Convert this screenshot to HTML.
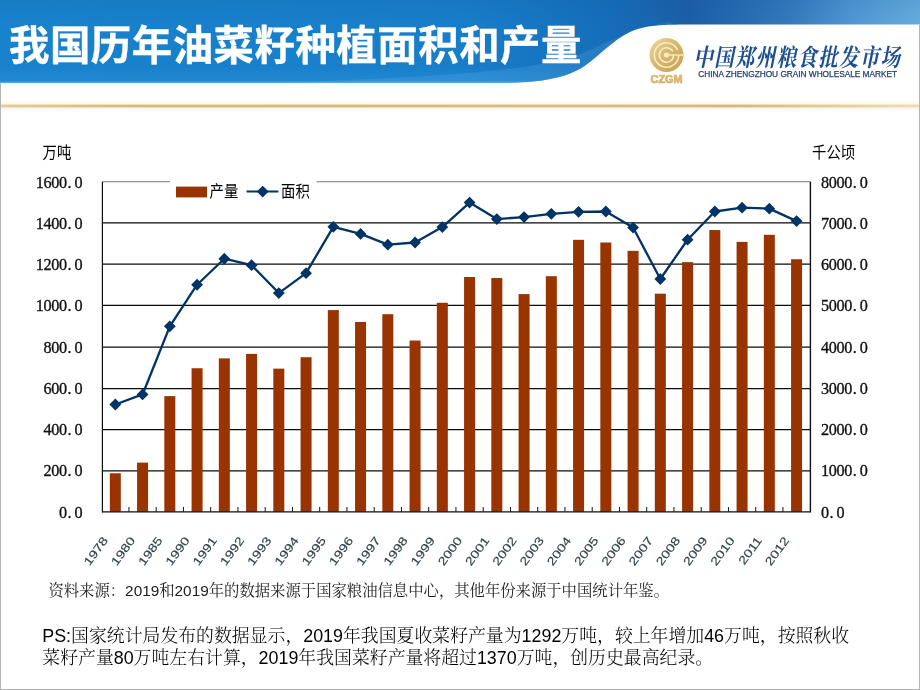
<!DOCTYPE html>
<html lang="zh-CN"><head><meta charset="utf-8"><title>我国历年油菜籽种植面积和产量</title>
<style>
html,body{margin:0;padding:0;background:#fff;}
body{width:920px;height:690px;position:relative;overflow:hidden;font-family:"Liberation Sans","Noto Sans CJK SC",sans-serif;}
.fl{position:absolute;left:0;top:83px;width:1px;height:607px;background:#b4b4b4;}
.fr{position:absolute;left:919px;top:25px;width:1px;height:665px;background:#b4b4b4;}
.fb{position:absolute;left:0;top:689px;width:920px;height:1px;background:#b4b4b4;}
.hdr{position:absolute;left:0;top:0;}
.title{position:absolute;left:9px;top:15.7px;margin:0;font-family:"Liberation Sans","Noto Sans CJK SC",sans-serif;font-weight:bold;font-size:40.4px;line-height:60px;color:#fff;white-space:nowrap;letter-spacing:0.53px;-webkit-text-stroke:0.35px #fff;}
.logo{position:absolute;left:640px;top:30px;}
.org{position:absolute;left:693.5px;top:42.6px;transform:scaleY(1.25);transform-origin:0 50%;margin:0;font-family:"Liberation Serif","Noto Serif CJK SC",serif;font-weight:700;font-style:italic;font-size:19.4px;line-height:30px;color:#1e4f92;white-space:nowrap;letter-spacing:1.4px;}
.orgen{position:absolute;left:698.2px;top:69.4px;margin:0;font-family:"Liberation Sans",sans-serif;font-size:8.3px;line-height:10px;color:#1f3f73;white-space:nowrap;letter-spacing:-0.02px;-webkit-text-stroke:0.25px #1f3f73;}
.chart{position:absolute;left:0;top:0;}
.chart .cj{font-family:"Liberation Sans","Noto Sans CJK SC",sans-serif;font-size:14.4px;fill:#000;}
.chart .num{font-family:"Liberation Serif",serif;font-size:14.6px;font-weight:400;fill:#111;stroke:#111;stroke-width:0.3px;}
.chart .xl{font-family:"Liberation Sans",sans-serif;font-size:14.5px;fill:#33454a;stroke:#33454a;stroke-width:0.2px;}
.src{position:absolute;left:48.4px;top:580px;margin:0;font-family:"Liberation Sans","Noto Serif CJK SC",serif;font-size:15.35px;line-height:22px;color:#222;white-space:nowrap;}
.ps{position:absolute;left:42.3px;top:625.2px;margin:0;font-family:"Liberation Sans","Noto Serif CJK SC",serif;font-size:17.88px;line-height:22.2px;color:#000;white-space:nowrap;font-weight:300;}
</style></head>
<body>
<svg class="hdr" width="920" height="120" viewBox="0 0 920 120">
<defs>
<linearGradient id="bg" x1="0" y1="0" x2="920" y2="0" gradientUnits="userSpaceOnUse">
<stop offset="0" stop-color="#1982cd"/><stop offset="0.5" stop-color="#187ec9"/><stop offset="0.65" stop-color="#166fbb"/><stop offset="0.75" stop-color="#1b5fa6"/><stop offset="0.85" stop-color="#3077bb"/><stop offset="0.93" stop-color="#5299d4"/><stop offset="1" stop-color="#66addf"/>
</linearGradient>
<linearGradient id="bv" x1="0" y1="0" x2="0" y2="83" gradientUnits="userSpaceOnUse">
<stop offset="0" stop-color="#0c4f96" stop-opacity="0.12"/><stop offset="0.3" stop-color="#0c4f96" stop-opacity="0"/><stop offset="0.8" stop-color="#3aa0e6" stop-opacity="0.0"/><stop offset="0.97" stop-color="#3aa0e6" stop-opacity="0.25"/><stop offset="1" stop-color="#8fd0f8" stop-opacity="0.6"/>
</linearGradient>
<linearGradient id="cream" x1="0" y1="83" x2="0" y2="105" gradientUnits="userSpaceOnUse">
<stop offset="0" stop-color="#ffffff"/><stop offset="0.72" stop-color="#ffffff"/><stop offset="1" stop-color="#fdf6e4"/>
</linearGradient>
<linearGradient id="gold" x1="0" y1="0" x2="920" y2="0" gradientUnits="userSpaceOnUse">
<stop offset="0" stop-color="#e2cd96"/><stop offset="0.12" stop-color="#d8bd78"/><stop offset="0.8" stop-color="#d6ba72"/><stop offset="1" stop-color="#ecdfb4"/>
</linearGradient>
<linearGradient id="shadow" x1="0" y1="107.4" x2="0" y2="113.4" gradientUnits="userSpaceOnUse">
<stop offset="0" stop-color="#c9c3b6" stop-opacity="0.22"/><stop offset="1" stop-color="#ffffff" stop-opacity="0"/>
</linearGradient>
<linearGradient id="swl" x1="430" y1="0" x2="680" y2="0" gradientUnits="userSpaceOnUse">
<stop offset="0" stop-color="#8fc6ee" stop-opacity="0"/><stop offset="0.5" stop-color="#7fb9e6" stop-opacity="0.9"/><stop offset="1" stop-color="#2f6fb4" stop-opacity="0.9"/>
</linearGradient>
</defs>
<rect x="0" y="83" width="920" height="22.5" fill="url(#cream)"/>
<path id="band" d="M0 0H920V24.5H700C660 24.5 645 25 630 32C612 41 600 55 587 64.3C570 77 545 83 500 83H0Z" fill="url(#bg)"/>
<path d="M0 0H920V24.5H700C660 24.5 645 25 630 32C612 41 600 55 587 64.3C570 77 545 83 500 83H0Z" fill="url(#bv)"/>
<clipPath id="bc"><path d="M0 0H920V24.5H700C660 24.5 645 25 630 32C612 41 600 55 587 64.3C570 77 545 83 500 83H0Z"/></clipPath>
<g clip-path="url(#bc)"><path d="M250 84C400 78 520 74 575 56C605 45 625 30 670 22L700 40L600 90Z" fill="#7cc8f6" opacity="0.16"/></g>
<rect x="0" y="104.6" width="920" height="2.8" fill="url(#gold)"/>
<rect x="0" y="107.4" width="920" height="6" fill="url(#shadow)"/>
</svg>
<h1 class="title">我国历年油菜籽种植面积和产量</h1>
<svg class="logo" width="60" height="60" viewBox="0 0 60 60">
<defs><linearGradient id="lg" x1="0" y1="0" x2="1" y2="1"><stop offset="0" stop-color="#ecd9a4"/><stop offset="0.45" stop-color="#d9b96f"/><stop offset="1" stop-color="#c59d4c"/></linearGradient>
<linearGradient id="lt" x1="0" y1="0" x2="0" y2="1"><stop offset="0" stop-color="#e2c784"/><stop offset="1" stop-color="#cfa959"/></linearGradient></defs>
<circle cx="26.5" cy="25.0" r="17" fill="url(#lg)"/>
<path d="M38.70 25.00A12.2 12.2 0 1 1 37.65 20.04" fill="none" stroke="#f8ecc8" stroke-width="1.5"/>
<path d="M33.70 25.00A7.2 7.2 0 1 1 32.74 21.40" fill="none" stroke="#f8ecc8" stroke-width="1.5"/>
<circle cx="26.5" cy="25.0" r="2.6" fill="#f8ecc8"/>
<path d="M26.5 25.0H43.5" stroke="#f8ecc8" stroke-width="1.4"/>
<text x="26.6" y="53" text-anchor="middle" textLength="32" lengthAdjust="spacingAndGlyphs" font-family="Liberation Sans, sans-serif" font-weight="bold" font-size="10.6" fill="url(#lt)" stroke="#d6b46a" stroke-width="0.7">CZGM</text>
</svg>
<p class="org">中国郑州粮食批发市场</p>
<p class="orgen">CHINA ZHENGZHOU GRAIN WHOLESALE MARKET</p>
<svg class="chart" width="920" height="690" viewBox="0 0 920 690">
<line x1="102.4" y1="181.7" x2="810.4" y2="181.7" stroke="#777" stroke-width="1.1"/>
<line x1="102.4" y1="470.90" x2="810.4" y2="470.90" stroke="#0a0a0a" stroke-width="1.2"/>
<line x1="102.4" y1="429.70" x2="810.4" y2="429.70" stroke="#0a0a0a" stroke-width="1.2"/>
<line x1="102.4" y1="388.60" x2="810.4" y2="388.60" stroke="#0a0a0a" stroke-width="1.2"/>
<line x1="102.4" y1="347.10" x2="810.4" y2="347.10" stroke="#0a0a0a" stroke-width="1.2"/>
<line x1="102.4" y1="305.30" x2="810.4" y2="305.30" stroke="#0a0a0a" stroke-width="1.2"/>
<line x1="102.4" y1="264.20" x2="810.4" y2="264.20" stroke="#0a0a0a" stroke-width="1.2"/>
<line x1="102.4" y1="222.90" x2="810.4" y2="222.90" stroke="#0a0a0a" stroke-width="1.2"/>
<rect x="109.83" y="473.26" width="11" height="38.54" fill="#993300"/>
<rect x="137.07" y="462.62" width="11" height="49.18" fill="#993300"/>
<rect x="164.32" y="396.12" width="11" height="115.68" fill="#993300"/>
<rect x="191.57" y="368.25" width="11" height="143.55" fill="#993300"/>
<rect x="218.82" y="358.39" width="11" height="153.41" fill="#993300"/>
<rect x="246.07" y="353.91" width="11" height="157.89" fill="#993300"/>
<rect x="273.32" y="368.64" width="11" height="143.16" fill="#993300"/>
<rect x="300.57" y="357.23" width="11" height="154.57" fill="#993300"/>
<rect x="327.82" y="310.09" width="11" height="201.71" fill="#993300"/>
<rect x="355.07" y="321.97" width="11" height="189.83" fill="#993300"/>
<rect x="382.32" y="314.19" width="11" height="197.61" fill="#993300"/>
<rect x="409.57" y="340.54" width="11" height="171.26" fill="#993300"/>
<rect x="436.82" y="302.76" width="11" height="209.04" fill="#993300"/>
<rect x="464.07" y="277.00" width="11" height="234.80" fill="#993300"/>
<rect x="491.32" y="278.03" width="11" height="233.77" fill="#993300"/>
<rect x="518.58" y="294.10" width="11" height="217.70" fill="#993300"/>
<rect x="545.83" y="276.19" width="11" height="235.61" fill="#993300"/>
<rect x="573.08" y="239.84" width="11" height="271.96" fill="#993300"/>
<rect x="600.33" y="242.52" width="11" height="269.28" fill="#993300"/>
<rect x="627.58" y="250.84" width="11" height="260.96" fill="#993300"/>
<rect x="654.83" y="293.67" width="11" height="218.13" fill="#993300"/>
<rect x="682.08" y="262.12" width="11" height="249.68" fill="#993300"/>
<rect x="709.33" y="230.04" width="11" height="281.76" fill="#993300"/>
<rect x="736.58" y="241.90" width="11" height="269.90" fill="#993300"/>
<rect x="763.83" y="234.80" width="11" height="277.00" fill="#993300"/>
<rect x="791.08" y="259.27" width="11" height="252.53" fill="#993300"/>
<line x1="102.4" y1="181.7" x2="102.4" y2="512.4" stroke="#111" stroke-width="1.2"/>
<line x1="810.4" y1="181.7" x2="810.4" y2="512.4" stroke="#111" stroke-width="1.4"/>
<line x1="102.4" y1="511.8" x2="810.4" y2="511.8" stroke="#111" stroke-width="1.3"/>
<line x1="128.95" y1="507.0" x2="128.95" y2="511.8" stroke="#111" stroke-width="1"/>
<line x1="156.20" y1="507.0" x2="156.20" y2="511.8" stroke="#111" stroke-width="1"/>
<line x1="183.45" y1="507.0" x2="183.45" y2="511.8" stroke="#111" stroke-width="1"/>
<line x1="210.70" y1="507.0" x2="210.70" y2="511.8" stroke="#111" stroke-width="1"/>
<line x1="237.95" y1="507.0" x2="237.95" y2="511.8" stroke="#111" stroke-width="1"/>
<line x1="265.20" y1="507.0" x2="265.20" y2="511.8" stroke="#111" stroke-width="1"/>
<line x1="292.45" y1="507.0" x2="292.45" y2="511.8" stroke="#111" stroke-width="1"/>
<line x1="319.70" y1="507.0" x2="319.70" y2="511.8" stroke="#111" stroke-width="1"/>
<line x1="346.95" y1="507.0" x2="346.95" y2="511.8" stroke="#111" stroke-width="1"/>
<line x1="374.20" y1="507.0" x2="374.20" y2="511.8" stroke="#111" stroke-width="1"/>
<line x1="401.45" y1="507.0" x2="401.45" y2="511.8" stroke="#111" stroke-width="1"/>
<line x1="428.70" y1="507.0" x2="428.70" y2="511.8" stroke="#111" stroke-width="1"/>
<line x1="455.95" y1="507.0" x2="455.95" y2="511.8" stroke="#111" stroke-width="1"/>
<line x1="483.20" y1="507.0" x2="483.20" y2="511.8" stroke="#111" stroke-width="1"/>
<line x1="510.45" y1="507.0" x2="510.45" y2="511.8" stroke="#111" stroke-width="1"/>
<line x1="537.70" y1="507.0" x2="537.70" y2="511.8" stroke="#111" stroke-width="1"/>
<line x1="564.95" y1="507.0" x2="564.95" y2="511.8" stroke="#111" stroke-width="1"/>
<line x1="592.20" y1="507.0" x2="592.20" y2="511.8" stroke="#111" stroke-width="1"/>
<line x1="619.45" y1="507.0" x2="619.45" y2="511.8" stroke="#111" stroke-width="1"/>
<line x1="646.70" y1="507.0" x2="646.70" y2="511.8" stroke="#111" stroke-width="1"/>
<line x1="673.95" y1="507.0" x2="673.95" y2="511.8" stroke="#111" stroke-width="1"/>
<line x1="701.20" y1="507.0" x2="701.20" y2="511.8" stroke="#111" stroke-width="1"/>
<line x1="728.45" y1="507.0" x2="728.45" y2="511.8" stroke="#111" stroke-width="1"/>
<line x1="755.70" y1="507.0" x2="755.70" y2="511.8" stroke="#111" stroke-width="1"/>
<line x1="782.95" y1="507.0" x2="782.95" y2="511.8" stroke="#111" stroke-width="1"/>
<polyline points="115.33,404.52 142.57,394.45 169.82,326.37 197.07,284.73 224.32,258.74 251.57,265.22 278.82,293.07 306.07,273.14 333.32,226.80 360.57,233.94 387.82,244.63 415.07,242.48 442.32,227.09 469.57,202.58 496.82,219.04 524.08,217.06 551.33,213.84 578.58,211.78 605.83,211.49 633.08,227.58 660.33,279.00 687.58,239.72 714.83,211.49 742.08,207.70 769.33,208.64 796.58,221.11" fill="none" stroke="#003366" stroke-width="2.3" stroke-linejoin="round"/>
<path d="M115.33 398.62L121.23 404.52L115.33 410.42L109.42 404.52Z" fill="#003366"/>
<path d="M142.57 388.55L148.47 394.45L142.57 400.35L136.67 394.45Z" fill="#003366"/>
<path d="M169.82 320.47L175.72 326.37L169.82 332.27L163.92 326.37Z" fill="#003366"/>
<path d="M197.07 278.83L202.97 284.73L197.07 290.63L191.17 284.73Z" fill="#003366"/>
<path d="M224.32 252.84L230.22 258.74L224.32 264.64L218.42 258.74Z" fill="#003366"/>
<path d="M251.57 259.32L257.47 265.22L251.57 271.12L245.67 265.22Z" fill="#003366"/>
<path d="M278.82 287.17L284.72 293.07L278.82 298.97L272.93 293.07Z" fill="#003366"/>
<path d="M306.07 267.24L311.97 273.14L306.07 279.04L300.18 273.14Z" fill="#003366"/>
<path d="M333.32 220.90L339.22 226.80L333.32 232.70L327.43 226.80Z" fill="#003366"/>
<path d="M360.57 228.04L366.47 233.94L360.57 239.84L354.68 233.94Z" fill="#003366"/>
<path d="M387.82 238.73L393.72 244.63L387.82 250.53L381.93 244.63Z" fill="#003366"/>
<path d="M415.07 236.58L420.97 242.48L415.07 248.38L409.18 242.48Z" fill="#003366"/>
<path d="M442.32 221.19L448.22 227.09L442.32 232.99L436.43 227.09Z" fill="#003366"/>
<path d="M469.57 196.68L475.47 202.58L469.57 208.48L463.68 202.58Z" fill="#003366"/>
<path d="M496.82 213.14L502.72 219.04L496.82 224.94L490.93 219.04Z" fill="#003366"/>
<path d="M524.08 211.16L529.98 217.06L524.08 222.96L518.18 217.06Z" fill="#003366"/>
<path d="M551.33 207.94L557.23 213.84L551.33 219.74L545.43 213.84Z" fill="#003366"/>
<path d="M578.58 205.88L584.48 211.78L578.58 217.68L572.68 211.78Z" fill="#003366"/>
<path d="M605.83 205.59L611.73 211.49L605.83 217.39L599.93 211.49Z" fill="#003366"/>
<path d="M633.08 221.68L638.98 227.58L633.08 233.48L627.18 227.58Z" fill="#003366"/>
<path d="M660.33 273.10L666.23 279.00L660.33 284.90L654.43 279.00Z" fill="#003366"/>
<path d="M687.58 233.82L693.48 239.72L687.58 245.62L681.68 239.72Z" fill="#003366"/>
<path d="M714.83 205.59L720.73 211.49L714.83 217.39L708.93 211.49Z" fill="#003366"/>
<path d="M742.08 201.80L747.98 207.70L742.08 213.60L736.18 207.70Z" fill="#003366"/>
<path d="M769.33 202.74L775.23 208.64L769.33 214.54L763.43 208.64Z" fill="#003366"/>
<path d="M796.58 215.21L802.48 221.11L796.58 227.01L790.68 221.11Z" fill="#003366"/>
<rect x="170" y="176" width="146.5" height="26" fill="#fff"/>
<rect x="176" y="186.6" width="31" height="10.8" fill="#993300"/>
<line x1="246.5" y1="191.6" x2="278.4" y2="191.6" stroke="#003366" stroke-width="2"/>
<path d="M262.70 185.70L268.60 191.60L262.70 197.50L256.80 191.60Z" fill="#003366"/>
<text class="cj" transform="translate(209.6,197.4) scale(1,1.14)">产量</text>
<text class="cj" transform="translate(281,197.4) scale(1,1.14)">面积</text>
<text class="cj" transform="translate(42.6,157.6) scale(1,1.14)">万吨</text>
<text class="cj" transform="translate(812,157.6) scale(1,1.14)">千公顷</text>
<text class="num" transform="translate(82.6,517.70) scale(1.11,1.16)" x="-21.22 -13.60 -7.25">0.0</text>
<text class="num" transform="translate(821.3,517.70) scale(1.11,1.16)" x="-0.27 7.34 13.69">0.0</text>
<text class="num" transform="translate(82.6,476.44) scale(1.11,1.16)" x="-35.18 -28.20 -21.22 -13.60 -7.25">200.0</text>
<text class="num" transform="translate(821.3,476.44) scale(1.11,1.16)" x="-0.27 6.71 13.69 20.68 28.29 34.64">1000.0</text>
<text class="num" transform="translate(82.6,435.17) scale(1.11,1.16)" x="-35.18 -28.20 -21.22 -13.60 -7.25">400.0</text>
<text class="num" transform="translate(821.3,435.17) scale(1.11,1.16)" x="-0.27 6.71 13.69 20.68 28.29 34.64">2000.0</text>
<text class="num" transform="translate(82.6,393.91) scale(1.11,1.16)" x="-35.18 -28.20 -21.22 -13.60 -7.25">600.0</text>
<text class="num" transform="translate(821.3,393.91) scale(1.11,1.16)" x="-0.27 6.71 13.69 20.68 28.29 34.64">3000.0</text>
<text class="num" transform="translate(82.6,352.65) scale(1.11,1.16)" x="-35.18 -28.20 -21.22 -13.60 -7.25">800.0</text>
<text class="num" transform="translate(821.3,352.65) scale(1.11,1.16)" x="-0.27 6.71 13.69 20.68 28.29 34.64">4000.0</text>
<text class="num" transform="translate(82.6,311.39) scale(1.11,1.16)" x="-42.16 -35.18 -28.20 -21.22 -13.60 -7.25">1000.0</text>
<text class="num" transform="translate(821.3,311.39) scale(1.11,1.16)" x="-0.27 6.71 13.69 20.68 28.29 34.64">5000.0</text>
<text class="num" transform="translate(82.6,270.12) scale(1.11,1.16)" x="-42.16 -35.18 -28.20 -21.22 -13.60 -7.25">1200.0</text>
<text class="num" transform="translate(821.3,270.12) scale(1.11,1.16)" x="-0.27 6.71 13.69 20.68 28.29 34.64">6000.0</text>
<text class="num" transform="translate(82.6,228.86) scale(1.11,1.16)" x="-42.16 -35.18 -28.20 -21.22 -13.60 -7.25">1400.0</text>
<text class="num" transform="translate(821.3,228.86) scale(1.11,1.16)" x="-0.27 6.71 13.69 20.68 28.29 34.64">7000.0</text>
<text class="num" transform="translate(82.6,187.60) scale(1.11,1.16)" x="-42.16 -35.18 -28.20 -21.22 -13.60 -7.25">1600.0</text>
<text class="num" transform="translate(821.3,187.60) scale(1.11,1.16)" x="-0.27 6.71 13.69 20.68 28.29 34.64">8000.0</text>
<text class="xl" text-anchor="end" transform="translate(108.53,540.4) rotate(-54) scale(1,0.8)">1978</text>
<text class="xl" text-anchor="end" transform="translate(135.77,540.4) rotate(-54) scale(1,0.8)">1980</text>
<text class="xl" text-anchor="end" transform="translate(163.02,540.4) rotate(-54) scale(1,0.8)">1985</text>
<text class="xl" text-anchor="end" transform="translate(190.27,540.4) rotate(-54) scale(1,0.8)">1990</text>
<text class="xl" text-anchor="end" transform="translate(217.52,540.4) rotate(-54) scale(1,0.8)">1991</text>
<text class="xl" text-anchor="end" transform="translate(244.77,540.4) rotate(-54) scale(1,0.8)">1992</text>
<text class="xl" text-anchor="end" transform="translate(272.02,540.4) rotate(-54) scale(1,0.8)">1993</text>
<text class="xl" text-anchor="end" transform="translate(299.27,540.4) rotate(-54) scale(1,0.8)">1994</text>
<text class="xl" text-anchor="end" transform="translate(326.52,540.4) rotate(-54) scale(1,0.8)">1995</text>
<text class="xl" text-anchor="end" transform="translate(353.77,540.4) rotate(-54) scale(1,0.8)">1996</text>
<text class="xl" text-anchor="end" transform="translate(381.02,540.4) rotate(-54) scale(1,0.8)">1997</text>
<text class="xl" text-anchor="end" transform="translate(408.27,540.4) rotate(-54) scale(1,0.8)">1998</text>
<text class="xl" text-anchor="end" transform="translate(435.52,540.4) rotate(-54) scale(1,0.8)">1999</text>
<text class="xl" text-anchor="end" transform="translate(462.77,540.4) rotate(-54) scale(1,0.8)">2000</text>
<text class="xl" text-anchor="end" transform="translate(490.02,540.4) rotate(-54) scale(1,0.8)">2001</text>
<text class="xl" text-anchor="end" transform="translate(517.28,540.4) rotate(-54) scale(1,0.8)">2002</text>
<text class="xl" text-anchor="end" transform="translate(544.53,540.4) rotate(-54) scale(1,0.8)">2003</text>
<text class="xl" text-anchor="end" transform="translate(571.78,540.4) rotate(-54) scale(1,0.8)">2004</text>
<text class="xl" text-anchor="end" transform="translate(599.03,540.4) rotate(-54) scale(1,0.8)">2005</text>
<text class="xl" text-anchor="end" transform="translate(626.28,540.4) rotate(-54) scale(1,0.8)">2006</text>
<text class="xl" text-anchor="end" transform="translate(653.53,540.4) rotate(-54) scale(1,0.8)">2007</text>
<text class="xl" text-anchor="end" transform="translate(680.78,540.4) rotate(-54) scale(1,0.8)">2008</text>
<text class="xl" text-anchor="end" transform="translate(708.03,540.4) rotate(-54) scale(1,0.8)">2009</text>
<text class="xl" text-anchor="end" transform="translate(735.28,540.4) rotate(-54) scale(1,0.8)">2010</text>
<text class="xl" text-anchor="end" transform="translate(762.53,540.4) rotate(-54) scale(1,0.8)">2011</text>
<text class="xl" text-anchor="end" transform="translate(789.78,540.4) rotate(-54) scale(1,0.8)">2012</text>
</svg>
<p class="src">资料来源：2019和2019年的数据来源于国家粮油信息中心，其他年份来源于中国统计年鉴。</p>
<p class="ps">PS:国家统计局发布的数据显示，2019年我国夏收菜籽产量为1292万吨，较上年增加46万吨，按照秋收<br>菜籽产量80万吨左右计算，2019年我国菜籽产量将超过1370万吨，创历史最高纪录。</p>
<div class="fl"></div><div class="fr"></div><div class="fb"></div>
</body></html>
